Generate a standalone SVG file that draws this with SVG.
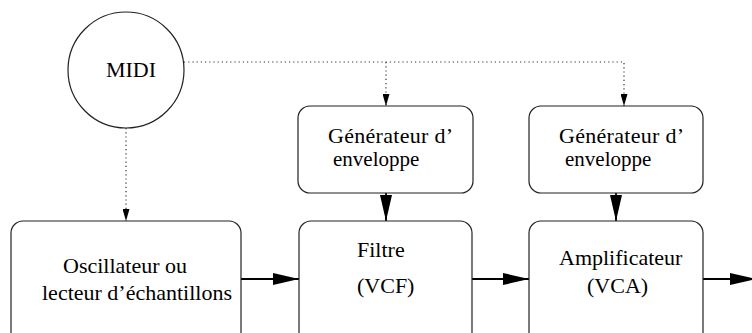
<svg xmlns="http://www.w3.org/2000/svg" width="752" height="333" viewBox="0 0 752 333">
<defs>
<style>
.box{fill:#fff;stroke:#222;stroke-width:1.2}
.t{font-family:"Liberation Serif","Times New Roman",serif;font-size:22px;fill:#000}
.e{font-size:21px}
.solid{stroke:#000;stroke-width:1.8;fill:none}
.dot{stroke:#333;stroke-width:1.2;stroke-dasharray:1.2 3;fill:none}
</style>
<marker id="big" viewBox="0 0 26 12" refX="26" refY="6" markerWidth="26" markerHeight="12" markerUnits="userSpaceOnUse" orient="auto">
<path d="M0,0 L26,6 L0,12 z" fill="#000"/>
</marker>
<marker id="small" viewBox="0 0 12 7" refX="12" refY="3.5" markerWidth="12" markerHeight="7" markerUnits="userSpaceOnUse" orient="auto">
<path d="M0,0 L12,3.5 L0,7 z" fill="#000"/>
</marker>
</defs>
<rect width="752" height="333" fill="#fff"/>
<g id="connectors">
<path class="dot" d="M184,62 H624 V106" marker-end="url(#small)"/>
<path class="dot" d="M386,62 V106" marker-end="url(#small)"/>
<path class="dot" d="M126,128 V221" marker-end="url(#small)"/>
<path class="solid" d="M386,193 V221" marker-end="url(#big)"/>
<path class="solid" d="M616,193 V221" marker-end="url(#big)"/>
<path class="solid" d="M241,279 H299" marker-end="url(#big)"/>
<path class="solid" d="M472,279 H529" marker-end="url(#big)"/>
<path class="solid" d="M703,279 H756" marker-end="url(#big)"/>
</g>
<g id="midi">
<circle cx="126" cy="70" r="58" fill="#fff" stroke="#222" stroke-width="1.2"/>
<text class="t" x="131" y="77" text-anchor="middle">MIDI</text>
</g>
<g id="env1">
<rect class="box" x="298" y="106" width="175" height="87" rx="12"/>
<text class="t" x="328" y="143" textLength="125">Générateur d’</text>
<text class="t e" x="333" y="166">enveloppe</text>
</g>
<g id="env2">
<rect class="box" x="529" y="106" width="174" height="87" rx="12"/>
<text class="t" x="559" y="143" textLength="125">Générateur d’</text>
<text class="t e" x="565" y="166">enveloppe</text>
</g>
<g id="osc">
<rect class="box" x="11" y="221" width="230" height="130" rx="12"/>
<text class="t" x="63" y="273">Oscillateur ou</text>
<text class="t" x="42" y="300">lecteur d’échantillons</text>
</g>
<g id="filtre">
<rect class="box" x="299" y="221" width="173" height="130" rx="12"/>
<text class="t" x="357" y="257">Filtre</text>
<text class="t" x="357" y="293">(VCF)</text>
</g>
<g id="ampli">
<rect class="box" x="529" y="221" width="174" height="130" rx="12"/>
<text class="t" x="559" y="265">Amplificateur</text>
<text class="t" x="587" y="293">(VCA)</text>
</g>
</svg>
